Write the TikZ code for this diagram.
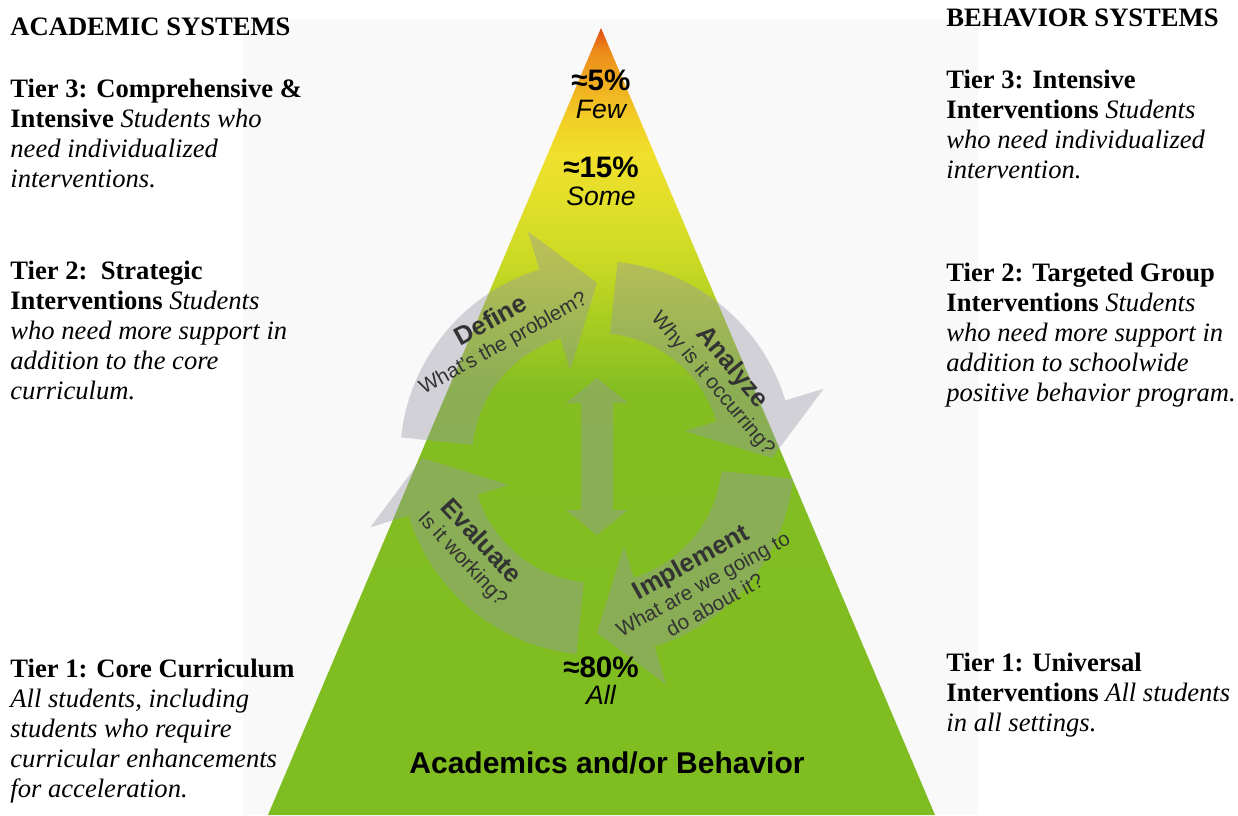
\documentclass[tikz,border=0pt]{standalone}
\usepackage{fontspec}
\setmainfont{Liberation Serif}
\setsansfont{Liberation Sans}

\definecolor{panelgray}{HTML}{F9F9F9}
\definecolor{pyrgreen}{HTML}{7EBD21}
\definecolor{pyrgreenb}{HTML}{84BE21}
\definecolor{pyrlime}{HTML}{A8CC22}
\definecolor{pyrchart}{HTML}{CBDA24}
\definecolor{pyrpale}{HTML}{E2DF2A}
\definecolor{pyryellow}{HTML}{F0E02C}
\definecolor{pyrgold}{HTML}{F2CE26}
\definecolor{pyramber}{HTML}{F0AA20}
\definecolor{pyrorange}{HTML}{EC8A1A}
\definecolor{pyrred}{HTML}{E04A10}
\definecolor{cyclegray}{RGB}{150,150,165}
\definecolor{labelgray}{HTML}{333333}

\pgfdeclareverticalshading{pyramidshade}{100bp}{color(0bp)=(pyrgreen); color(25bp)=(pyrgreen); color(52bp)=(pyrgreenb); color(56.4bp)=(pyrlime); color(60.3bp)=(pyrchart); color(64.1bp)=(pyrpale); color(66.9bp)=(pyryellow); color(69.2bp)=(pyrgold); color(71.7bp)=(pyramber); color(73.6bp)=(pyrorange); color(75bp)=(pyrred); color(100bp)=(pyrred)}

\newcommand{\cyclearrow}[1]{%
\fill ({#1+84}:197) arc[start angle={#1+84}, end angle={#1+17}, radius=197] -- ({#1+17}:237) -- (#1:175) -- ({#1+17}:92) -- ({#1+17}:125) arc[start angle={#1+17}, end angle={#1+84}, radius=125] -- cycle;}

\begin{document}
\begin{tikzpicture}[x=0.5pt, y=-0.5pt,
  sidetext/.style={anchor=base west, align=left, inner sep=0pt, font=\fontsize{13.3}{15}\selectfont},
  pctlabel/.style={anchor=base, inner sep=0pt, font=\fontsize{14.8}{16}\selectfont\sffamily\bfseries},
  tierlabel/.style={anchor=base, inner sep=0pt, font=\fontsize{13.3}{15}\selectfont\sffamily\itshape},
  steplabel/.style={align=center, inner sep=0pt, text=labelgray, font=\fontsize{10.3}{12}\selectfont\sffamily}]

\useasboundingbox (0,0) rectangle (1238,815);

\fill[panelgray] (243,19) rectangle (978,815);
\shade[shading=pyramidshade] (601,28) -- (935,815) -- (268,815) -- cycle;

\begin{scope}[shift={(597,458)}, y=0.5pt, fill=cyclegray, fill opacity=0.4]
\cyclearrow{90}
\cyclearrow{0}
\cyclearrow{-90}
\cyclearrow{180}
\fill (0,80) -- (31,55) -- (16,55) -- (16,-52) -- (31,-52) -- (0,-77) -- (-31,-52) -- (-16,-52) -- (-16,55) -- (-31,55) -- cycle;
\end{scope}

\node[steplabel, rotate=29] (define) at (497,332) {{\fontsize{12.8}{12}\selectfont\bfseries Define}\\What’s the problem?};
\node[steplabel, rotate=-50] (analyze) at (723,375) {{\fontsize{12.8}{12}\selectfont\bfseries Analyze}\\Why is it occurring?};
\node[steplabel, rotate=-47] (evaluate) at (472,550) {{\fontsize{12.8}{12}\selectfont\bfseries Evaluate}\\Is it working?};
\node[steplabel, rotate=29] (implement) at (702,582) {{\fontsize{12.8}{12}\selectfont\bfseries Implement}\\What are we going to\\do about it?};

\node[pctlabel] (fivepct) at (601,90) {≈5\%};
\node[tierlabel] (few) at (601,118) {Few};
\node[pctlabel] (fifteenpct) at (601,177) {≈15\%};
\node[tierlabel] (some) at (601,205) {Some};
\node[pctlabel] (eightypct) at (601,677) {≈80\%};
\node[tierlabel] (all) at (601,704) {All};
\node[pctlabel, font=\fontsize{15}{17}\selectfont\sffamily\bfseries] (pyrbase) at (607,773) {Academics and/or Behavior};

\node[sidetext] (acadhead) at (10,35) {\bfseries ACADEMIC SYSTEMS};
\node[sidetext] (acadthree) at (10,187) {\textbf{Tier 3: Comprehensive \&}\\\textbf{Intensive} \textit{Students who}\\\textit{need individualized}\\\textit{interventions.}};
\node[sidetext] (acadtwo) at (10,399) {\textbf{Tier 2:\ \ Strategic}\\\textbf{Interventions} \textit{Students}\\\textit{who need more support in}\\\textit{addition to the core}\\\textit{curriculum.}};
\node[sidetext] (acadone) at (10,797) {\textbf{Tier 1: Core Curriculum}\\\textit{All students, including}\\\textit{students who require}\\\textit{curricular enhancements}\\\textit{for acceleration.}};

\node[sidetext] (behavhead) at (946,26) {\bfseries BEHAVIOR SYSTEMS};
\node[sidetext] (behavthree) at (946,178) {\textbf{Tier 3: Intensive}\\\textbf{Interventions} \textit{Students}\\\textit{who need individualized}\\\textit{intervention.}};
\node[sidetext] (behavtwo) at (946,401) {\textbf{Tier 2: Targeted Group}\\\textbf{Interventions} \textit{Students}\\\textit{who need more support in}\\\textit{addition to schoolwide}\\\textit{positive behavior program.}};
\node[sidetext] (behavone) at (946,731) {\textbf{Tier 1: Universal}\\\textbf{Interventions} \textit{All students}\\\textit{in all settings.}};

\end{tikzpicture}
\end{document}
